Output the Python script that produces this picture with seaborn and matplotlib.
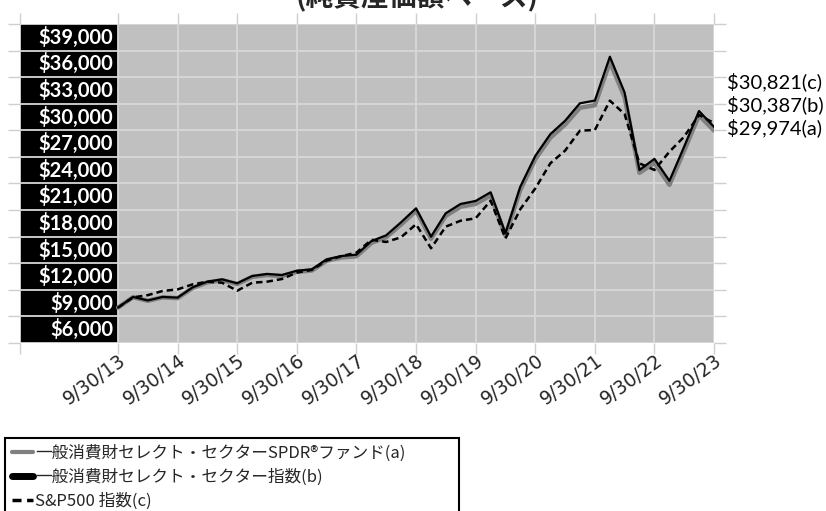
import matplotlib
matplotlib.use("Agg")
import pandas as pd
import matplotlib.pyplot as plt
import matplotlib.transforms as mtransforms
import seaborn as sns

# 四半期末の日付 (9/30/13 - 9/30/23)
quarters = pd.date_range("2013-09-30", "2023-09-30", freq="QE")

fund_a = [10000, 11170, 10760, 11150, 11060, 12210, 12840, 13090, 12650, 13460,
          13680, 13550, 14030, 14180, 15280, 15650, 15790, 17300, 17930, 19370,
          20920, 17760, 20350, 21380, 21700, 22660, 18100, 23270, 26750, 29160,
          30640, 32540, 32830, 37710, 33750, 25200, 26330, 23850, 27700, 31700,
          29974]
index_b = [10000, 11200, 10800, 11200, 11120, 12280, 12920, 13180, 12740, 13560,
           13790, 13670, 14160, 14320, 15440, 15820, 15970, 17510, 18150, 19620,
           21200, 18000, 20640, 21690, 22030, 23010, 18380, 23640, 27120, 29570,
           31070, 33050, 33360, 38310, 34270, 25520, 26780, 24300, 28150, 32180,
           30387]
sp500_c = [10000, 11150, 11400, 11870, 12050, 12620, 12920, 12800, 11900, 12800,
           12920, 13220, 13950, 14250, 15300, 15800, 16200, 17650, 17400, 17930,
           19400, 16690, 19130, 19800, 20070, 22060, 17800, 21100, 23450, 26280,
           27700, 29960, 30040, 33350, 31840, 26280, 25520, 27590, 29280, 31730,
           30821]

tick_dates = pd.to_datetime(["2013-09-30", "2014-09-30", "2015-09-30", "2016-09-30",
                             "2017-09-30", "2018-09-30", "2019-09-30", "2020-09-30",
                             "2021-09-30", "2022-09-30", "2023-09-30"])
tick_labels = ["9/30/13", "9/30/14", "9/30/15", "9/30/16", "9/30/17", "9/30/18",
               "9/30/19", "9/30/20", "9/30/21", "9/30/22", "9/30/23"]
y_label_values = [6000, 9000, 12000, 15000, 18000, 21000, 24000, 27000, 30000,
                  33000, 36000, 39000]

series_labels = ["一般消費財セレクト・セクターSPDR®ファンド(a)",
                 "一般消費財セレクト・セクター指数(b)",
                 "S&P500 指数(c)"]
end_labels = ["$30,821(c)", "$30,387(b)", "$29,974(a)"]

df = pd.DataFrame({"date": quarters, "fund": fund_a, "index": index_b, "sp500": sp500_c})

sns.set_style("whitegrid")
cjk = ["Noto Sans CJK JP", "DejaVu Sans"]

fig = plt.figure(figsize=(8.26, 5.11), dpi=100)
ax = fig.add_axes([20 / 826, 168 / 511, 694 / 826, 319 / 511])
ax.set_facecolor("#c0c0c0")

sns.lineplot(data=df, x="date", y="fund", ax=ax, color="#808080", linewidth=3.2, legend=False)
sns.lineplot(data=df, x="date", y="index", ax=ax, color="black", linewidth=1.6, legend=False)
sns.lineplot(data=df, x="date", y="sp500", ax=ax, color="black", linewidth=1.8,
             linestyle=(0, (2.6, 1.6)), legend=False)

x_left = pd.Timestamp("2012-02-07")
ax.set_xlim(x_left, tick_dates[-1])
ax.set_ylim(6000, 42000)
ax.set_yticks(range(6000, 42001, 3000))
ax.set_yticklabels([])
ax.set_xticks([x_left] + list(tick_dates))
ax.set_xticklabels([""] + tick_labels, rotation=36, ha="right", va="center",
                   rotation_mode="anchor", fontsize=13.5, family="DejaVu Sans")
ax.set_xlabel("")
ax.set_ylabel("")

ax.grid(True, color="#d8d8d8", linewidth=1.3)
for s in ax.spines.values():
    s.set_visible(False)
ax.tick_params(axis="x", top=True, bottom=True, length=8, width=1, color="#cfcfcf", pad=3)
ax.tick_params(axis="y", left=True, right=True, length=8.5, width=1, color="#cfcfcf")
shift = mtransforms.ScaledTranslation(6 / 100, 0, fig.dpi_scale_trans)
for lab in ax.get_xticklabels():
    lab.set_transform(lab.get_transform() + shift)

# 左側の黒い目盛り欄
ax.axvspan(x_left, tick_dates[0], color="black", zorder=0.4, lw=0)
for v in y_label_values:
    ax.text(0.134, v + 1500, f"${v:,}", transform=ax.get_yaxis_transform(),
            color="white", ha="right", va="center", fontsize=14.5, fontweight="bold",
            family="Lato")

# 右端の最終値ラベル
for lab, y in zip(end_labels, [35450, 32850, 30260]):
    ax.text(1.0185, y, lab, transform=ax.get_yaxis_transform(), ha="left", va="center",
            fontsize=14.5, family="Lato", color="black", clip_on=False)

fig.text(417 / 826, 1 + 2 / 511, "(純資産価額ベース)", ha="center", va="center",
         fontsize=20, fontweight="bold", family=cjk)

leg = fig.legend(ax.get_lines()[:3], series_labels, loc="upper left",
                 bbox_to_anchor=(5 / 826, 1 - 438 / 511, 454 / 826, 0), mode="expand",
                 prop={"family": cjk, "size": 12}, frameon=True, fancybox=False,
                 edgecolor="black", framealpha=1, borderpad=0.42, labelspacing=0.4,
                 handlelength=1.25, handletextpad=0.15, borderaxespad=0)
leg.get_frame().set_linewidth(1.5)
for line, lw in zip(leg.get_lines(), [3, 5, 2.5]):
    line.set_linewidth(lw)

fig.savefig("out.png", dpi=100)
plt.close(fig)
